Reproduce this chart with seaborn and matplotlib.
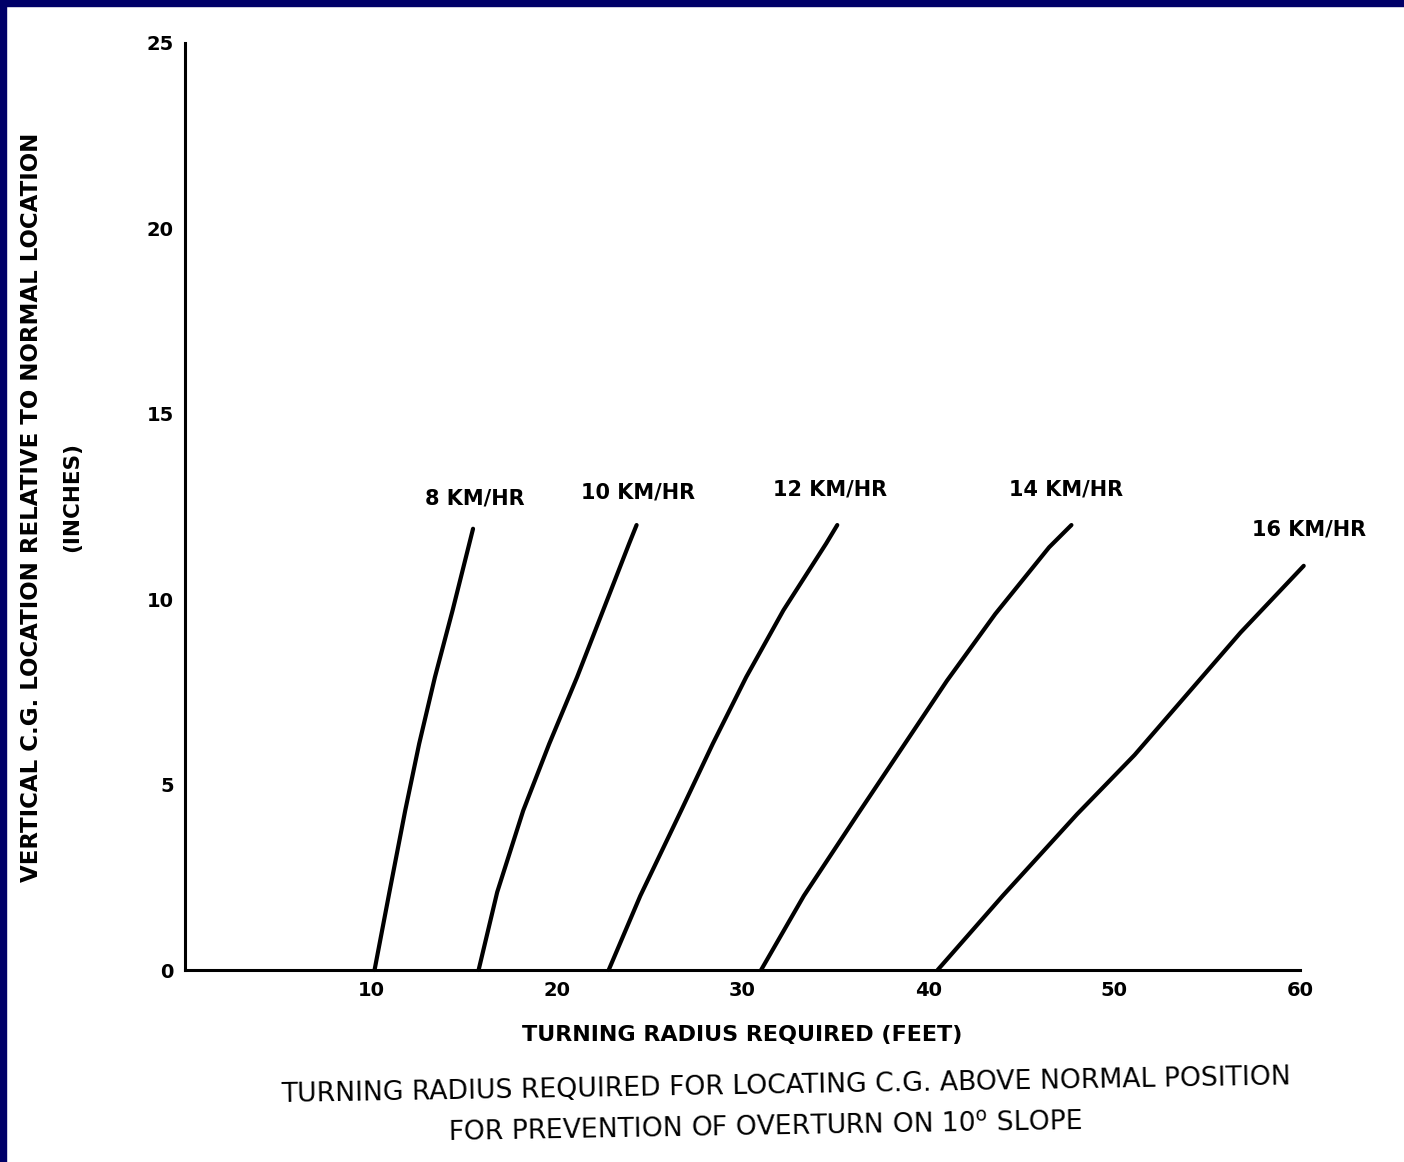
import numpy as np
import pandas as pd
import seaborn as sns
import matplotlib.pyplot as plt
from matplotlib.patches import Rectangle

sns.set_style("white")
plt.rcParams['font.family'] = ['DejaVu Sans']
plt.rcParams['text.color'] = 'black'
plt.rcParams['axes.labelcolor'] = 'black'

# curves: turning radius (ft) vs C.G. rise (in)
speeds = ["8 KM/HR", "10 KM/HR", "12 KM/HR", "14 KM/HR", "16 KM/HR"]
radius_8 = [10.2, 11.0, 11.85, 12.6, 13.45, 14.4, 15.3, 15.5]
cg_8 = [0.0, 2.1, 4.3, 6.1, 7.9, 9.7, 11.5, 11.9]
radius_10 = [15.8, 16.8, 18.2, 19.6, 21.1, 22.5, 23.9, 24.3]
cg_10 = [0.0, 2.1, 4.3, 6.1, 7.9, 9.7, 11.5, 12.0]
radius_12 = [22.8, 24.5, 26.7, 28.4, 30.2, 32.2, 34.5, 35.1]
cg_12 = [0.0, 2.0, 4.3, 6.1, 7.9, 9.7, 11.5, 12.0]
radius_14 = [31.0, 33.3, 36.2, 38.6, 41.0, 43.6, 46.5, 47.7]
cg_14 = [0.0, 2.0, 4.2, 6.0, 7.8, 9.6, 11.4, 12.0]
radius_16 = [40.5, 44.0, 48.0, 51.1, 56.8, 60.2]
cg_16 = [0.0, 2.0, 4.2, 5.8, 9.1, 10.9]

# label anchor points (data coords)
label_x = [15.6, 24.4, 34.7, 47.4, 60.5]
label_y = [12.45, 12.6, 12.7, 12.7, 11.6]

xticks = [10, 20, 30, 40, 50, 60]
yticks = [0, 5, 10, 15, 20, 25]

radii = [radius_8, radius_10, radius_12, radius_14, radius_16]
cgs = [cg_8, cg_10, cg_12, cg_14, cg_16]

fig = plt.figure(figsize=(14.04, 11.62), dpi=100)
ax = fig.add_axes([185 / 1404, 192 / 1162, 1115 / 1404, 927 / 1162])

for name, r, c in zip(speeds, radii, cgs):
    df = pd.DataFrame({"radius": r, "cg": c})
    sns.lineplot(data=df, x="radius", y="cg", sort=False, color="black",
                 linewidth=3.0, ax=ax, clip_on=False)

for name, lx, ly in zip(speeds, label_x, label_y):
    ax.text(lx, ly, name, ha="center", va="bottom", fontsize=15,
            fontweight="bold", color="black")

ax.set_xlim(0, 60)
ax.set_ylim(0, 25)
ax.set_xticks(xticks)
ax.set_yticks(yticks)
ax.set_xticklabels([str(t) for t in xticks], fontsize=14, fontweight="bold")
ax.set_yticklabels([str(t) for t in yticks], fontsize=14, fontweight="bold")
ax.tick_params(axis="x", direction="in", length=13, width=2, pad=8, colors="black")
ax.tick_params(axis="y", direction="in", length=10, width=2, pad=8, colors="black")

for s in ["top", "right"]:
    ax.spines[s].set_visible(False)
for s in ["left", "bottom"]:
    ax.spines[s].set_linewidth(2.2)
    ax.spines[s].set_color("black")

ax.set_xlabel("TURNING RADIUS REQUIRED (FEET)", fontsize=16, fontweight="bold",
              labelpad=18, color="black")
ax.set_ylabel("")

fig.text(32 / 1404, 1 - 507 / 1162, "VERTICAL C.G. LOCATION RELATIVE TO NORMAL LOCATION",
         rotation=90, ha="center", va="center", fontsize=16.5, fontweight="bold")
fig.text(72 / 1404, 1 - 497 / 1162, "(INCHES)",
         rotation=90, ha="center", va="center", fontsize=15.5, fontweight="bold")

fig.text(786 / 1404, 1 - 1086 / 1162,
         "TURNING RADIUS REQUIRED FOR LOCATING C.G. ABOVE NORMAL POSITION",
         ha="center", va="center", fontsize=19.2, rotation=1)
fig.text(765 / 1404, 1 - 1128 / 1162,
         "FOR PREVENTION OF OVERTURN ON 10$^{\\mathregular{o}}$ SLOPE",
         ha="center", va="center", fontsize=19.2, rotation=1)

# navy slide frame on top and left
fig.patches.append(Rectangle((0, 1 - 6 / 1162), 1, 6 / 1162, transform=fig.transFigure,
                             color="#000068", zorder=10))
fig.patches.append(Rectangle((0, 0), 6 / 1404, 1, transform=fig.transFigure,
                             color="#000068", zorder=10))

fig.savefig("out.png", dpi=100)
